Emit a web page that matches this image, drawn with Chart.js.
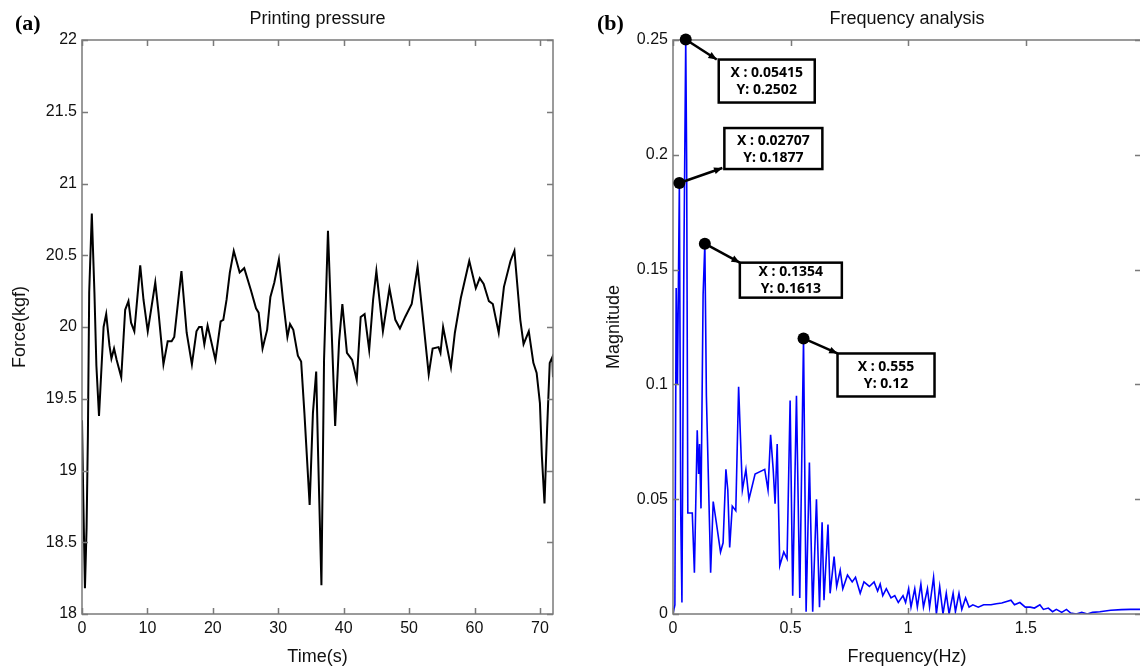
<!DOCTYPE html>
<html>
<head>
<meta charset="utf-8">
<script src="https://cdn.jsdelivr.net/npm/chart.js@4.4.0/dist/chart.umd.min.js"></script>
<style>
  body { margin: 0; background: #fff; }
  #wrap { position: relative; width: 1140px; height: 671px; overflow: hidden; }
  #pressure { position: absolute; left: 0; top: 0; }
  #spectrum { position: absolute; left: 570px; top: 0; }
</style>
</head>
<body>
<div id="wrap">
  <canvas id="pressure" width="570" height="671"></canvas>
  <canvas id="spectrum" width="576" height="671"></canvas>
</div>
<script>
// (a) printing pressure
const timeSec = [0, 0.2, 0.45, 0.7, 0.9, 1.1, 1.5, 1.9, 2.2, 2.6, 3.3, 3.7, 4.2, 4.5, 4.9, 5.3, 6.0, 6.6, 7.1, 7.5,
  8.0, 8.9, 9.4, 10.05, 11.2, 11.7, 12.45, 13.1, 13.7, 14.1, 15.2, 16.0, 16.8, 17.5, 17.9, 18.3, 18.7, 19.2, 20.4, 21.2,
  21.6, 22.1, 22.6, 23.2, 24.1, 24.8, 25.8, 26.6, 27.0, 27.6, 28.3, 28.8, 29.4, 30.1, 30.7, 31.4, 31.8, 32.3, 33.0, 33.5,
  34.0, 34.8, 35.3, 35.8, 36.1, 36.6, 37.0, 37.6, 38.1, 38.7, 39.3, 39.8, 40.5, 41.3, 42.0, 42.6, 43.2, 43.9, 44.5, 45.0,
  46.0, 47.0, 47.9, 48.6, 49.4, 50.4, 51.3, 52.1, 53.0, 53.6, 54.5, 54.8, 55.2, 56.4, 57.0, 57.9, 59.2, 60.2, 60.8, 61.4,
  62.2, 62.8, 63.7, 64.5, 65.5, 66.1, 67.0, 67.5, 68.3, 69.0, 69.5, 70.0, 70.3, 70.7, 71.1, 71.5, 71.9, 72.0];
const forceKgf = [19.35, 18.8, 18.18, 18.6, 19.24, 20.24, 20.79, 20.24, 19.73, 19.38, 20.0, 20.09, 19.87, 19.78, 19.85, 19.77, 19.65, 20.12, 20.18, 20.03,
  19.97, 20.43, 20.19, 19.97, 20.31, 20.1, 19.74, 19.9, 19.9, 19.93, 20.39, 19.96, 19.74, 19.97, 20.0, 20.0, 19.88, 20.01, 19.77, 20.04,
  20.05, 20.19, 20.38, 20.53, 20.38, 20.41, 20.26, 20.13, 20.1, 19.85, 19.98, 20.21, 20.31, 20.47, 20.2, 19.93, 20.02, 19.98, 19.8, 19.76,
  19.4, 18.76, 19.4, 19.69, 19.1, 18.2, 19.77, 20.67, 20.05, 19.31, 19.9, 20.16, 19.82, 19.77, 19.63, 20.07, 20.09, 19.84, 20.19, 20.39,
  19.97, 20.27, 20.05, 19.99, 20.07, 20.16, 20.42, 20.07, 19.67, 19.85, 19.86, 19.82, 20.0, 19.72, 19.96, 20.2, 20.46, 20.27, 20.34, 20.3,
  20.18, 20.16, 19.96, 20.28, 20.46, 20.53, 20.05, 19.88, 19.97, 19.75, 19.68, 19.47, 19.1, 18.77, 19.29, 19.75, 19.79, 19.65];

// (b) frequency analysis, vertices
const freqHz = [0, 0.008, 0.0135, 0.019, 0.02707, 0.033, 0.038, 0.046, 0.05415, 0.058, 0.063, 0.078, 0.082, 0.091, 0.103, 0.109,
  0.113, 0.119, 0.128, 0.1354, 0.142, 0.156, 0.160, 0.171, 0.184, 0.202, 0.213, 0.225, 0.233, 0.241, 0.252, 0.267, 0.279, 0.295,
  0.310, 0.323, 0.349, 0.390, 0.404, 0.415, 0.426, 0.434, 0.443, 0.454, 0.471, 0.485, 0.498, 0.509, 0.525, 0.539, 0.555, 0.566,
  0.580, 0.594, 0.610, 0.623, 0.634, 0.642, 0.659, 0.668, 0.685, 0.696, 0.711, 0.722, 0.742, 0.762, 0.776, 0.796, 0.812, 0.835,
  0.855, 0.870, 0.881, 0.892, 0.907, 0.927, 0.943, 0.958, 0.978, 0.989, 1.002, 1.012, 1.028, 1.039, 1.054, 1.065, 1.082, 1.091,
  1.108, 1.120, 1.134, 1.148, 1.162, 1.174, 1.191, 1.201, 1.216, 1.228, 1.244, 1.259, 1.275, 1.298, 1.321, 1.352, 1.375, 1.398,
  1.437, 1.452, 1.475, 1.498, 1.519, 1.537, 1.560, 1.575, 1.596, 1.614, 1.630, 1.653, 1.673, 1.691, 1.715, 1.738, 1.762, 1.784,
  1.815, 1.861, 1.907, 1.946, 1.99];
const magnitude = [0, 0.004, 0.142, 0.10, 0.1877, 0.043, 0.005, 0.15, 0.2502, 0.198, 0.044, 0.044, 0.044, 0.018, 0.080, 0.061,
  0.074, 0.046, 0.139, 0.1613, 0.095, 0.036, 0.018, 0.049, 0.040, 0.027, 0.031, 0.063, 0.054, 0.029, 0.047, 0.045, 0.099, 0.054,
  0.063, 0.050, 0.061, 0.063, 0.054, 0.078, 0.063, 0.048, 0.074, 0.021, 0.027, 0.024, 0.093, 0.008, 0.095, 0.007, 0.120, 0.001,
  0.066, 0.001, 0.050, 0.003, 0.040, 0.006, 0.039, 0.009, 0.025, 0.012, 0.019, 0.011, 0.017, 0.014, 0.016, 0.009, 0.014, 0.012,
  0.014, 0.010, 0.013, 0.008, 0.011, 0.007, 0.008, 0.005, 0.008, 0.005, 0.011, 0.003, 0.011, 0.003, 0.013, 0.003, 0.011, 0.003,
  0.016, 0.000, 0.012, 0.000, 0.009, 0.000, 0.009, 0.001, 0.009, 0.002, 0.007, 0.003, 0.004, 0.003, 0.004, 0.004, 0.0045, 0.0048,
  0.006, 0.004, 0.005, 0.003, 0.003, 0.0026, 0.004, 0.002, 0.0026, 0.001, 0.002, 0.0007, 0.002, 0.0004, 0, 0.0007, 0, 0.0007,
  0.001, 0.0016, 0.0019, 0.002, 0.002];

// data tips
const tipFreq = [0.05415, 0.02707, 0.1354, 0.555];
const tipMag = [0.2502, 0.1877, 0.1613, 0.12];
// box placement relative to the marker (px)
const tipBoxes = [
  { dx: 33, dy: 20, w: 96, h: 43, ax: -2, ay: 0 },
  { dx: 45, dy: -55, w: 98, h: 41, ax: -2, ay: 40 },
  { dx: 35, dy: 19, w: 102, h: 35, ax: 0, ay: 0 },
  { dx: 34, dy: 15, w: 97, h: 43, ax: 0, ay: 0 }
];

const SANS = '"Liberation Sans", Arial, sans-serif';
const fmt = v => String(+v.toFixed(3));

// MATLAB-like box, inward ticks, title and axis labels
const framePlugin = {
  id: 'frame',
  afterDraw(chart, args, o) {
    const { ctx, chartArea: a } = chart;
    const xs = chart.scales.x, ys = chart.scales.y;
    ctx.save();
    ctx.strokeStyle = '#7a7a7a';
    ctx.lineWidth = 1.5;
    ctx.strokeRect(a.left, a.top, a.right - a.left, a.bottom - a.top);
    ctx.beginPath();
    xs.ticks.forEach(t => {
      const p = Math.round(xs.getPixelForValue(t.value)) + 0.5;
      ctx.moveTo(p, a.bottom); ctx.lineTo(p, a.bottom - 6);
      ctx.moveTo(p, a.top); ctx.lineTo(p, a.top + 6);
    });
    ys.ticks.forEach(t => {
      const p = Math.round(ys.getPixelForValue(t.value)) + 0.5;
      ctx.moveTo(a.left, p); ctx.lineTo(a.left + 6, p);
      ctx.moveTo(a.right, p); ctx.lineTo(a.right - 6, p);
    });
    ctx.stroke();

    const cx = (a.left + a.right) / 2;
    ctx.fillStyle = '#111';
    ctx.textAlign = 'center';
    ctx.textBaseline = 'middle';
    ctx.font = '18px ' + SANS;
    ctx.fillText(o.title, cx, 19);
    ctx.fillText(o.xTitle, cx, 657);
    ctx.save();
    ctx.translate(o.yTitleX, (a.top + a.bottom) / 2);
    ctx.rotate(-Math.PI / 2);
    ctx.fillText(o.yTitle, 0, 0);
    ctx.restore();

    ctx.font = 'bold 22px "Liberation Serif", "Times New Roman", serif';
    ctx.textAlign = 'left';
    ctx.fillStyle = '#000';
    ctx.fillText(o.panel, o.panelX, 24);
    ctx.restore();
  }
};

// black markers, arrows and text boxes of the data tips
const tipsPlugin = {
  id: 'tips',
  afterDraw(chart) {
    const { ctx } = chart;
    const xs = chart.scales.x, ys = chart.scales.y;
    ctx.save();
    tipFreq.forEach((f, i) => {
      const px = xs.getPixelForValue(f), py = ys.getPixelForValue(tipMag[i]);
      const b = tipBoxes[i];
      const bx = px + b.dx, by = py + b.dy;
      const ex = bx + b.ax, ey = by + b.ay;
      // arrow
      ctx.strokeStyle = '#000';
      ctx.fillStyle = '#000';
      ctx.lineWidth = 2.5;
      ctx.beginPath();
      ctx.moveTo(px, py);
      ctx.lineTo(ex, ey);
      ctx.stroke();
      const ang = Math.atan2(ey - py, ex - px);
      ctx.beginPath();
      ctx.moveTo(ex, ey);
      ctx.lineTo(ex - 9 * Math.cos(ang - 0.4), ey - 9 * Math.sin(ang - 0.4));
      ctx.lineTo(ex - 9 * Math.cos(ang + 0.4), ey - 9 * Math.sin(ang + 0.4));
      ctx.closePath();
      ctx.fill();
      // marker
      ctx.beginPath();
      ctx.arc(px, py, 6, 0, Math.PI * 2);
      ctx.fill();
      // box
      ctx.fillStyle = '#fff';
      ctx.fillRect(bx, by, b.w, b.h);
      ctx.lineWidth = 2.5;
      ctx.strokeRect(bx, by, b.w, b.h);
      ctx.fillStyle = '#000';
      ctx.font = 'bold 14px "Noto Sans", "DejaVu Sans", sans-serif';
      ctx.textAlign = 'center';
      ctx.textBaseline = 'middle';
      ctx.fillText('X : ' + f, bx + b.w / 2, by + b.h / 2 - 8);
      ctx.fillText('Y: ' + tipMag[i], bx + b.w / 2, by + b.h / 2 + 9);
    });
    ctx.restore();
  }
};

function axisOpts(min, max, step, size) {
  return {
    type: 'linear',
    min: min,
    max: max,
    grid: { display: false, drawTicks: false },
    border: { display: false },
    ticks: {
      stepSize: step,
      includeBounds: false,
      padding: 5,
      color: '#111',
      font: { family: SANS, size: 16 },
      maxRotation: 0,
      autoSkip: false,
      callback: v => fmt(v)
    },
    afterFit: size
  };
}

function initializeCharts() {
  const c1 = document.getElementById('pressure').getContext('2d');
  new Chart(c1, {
    type: 'line',
    data: {
      datasets: [{
        data: timeSec.map((t, i) => ({ x: t, y: forceKgf[i] })),
        borderColor: '#000',
        borderWidth: 2,
        pointRadius: 0,
        tension: 0
      }]
    },
    options: {
      responsive: false,
      animation: false,
      layout: { padding: { top: 40, right: 17, left: 0, bottom: 0 } },
      plugins: {
        legend: { display: false },
        tooltip: { enabled: false },
        frame: { title: 'Printing pressure', xTitle: 'Time(s)', yTitle: 'Force(kgf)', yTitleX: 20, panel: '(a)', panelX: 15 }
      },
      scales: {
        x: axisOpts(0, 72, 10, s => { s.height = 57; }),
        y: axisOpts(18, 22, 0.5, s => { s.width = 82; })
      }
    },
    plugins: [framePlugin]
  });

  const c2 = document.getElementById('spectrum').getContext('2d');
  new Chart(c2, {
    type: 'line',
    data: {
      datasets: [{
        data: freqHz.map((f, i) => ({ x: f, y: magnitude[i] })),
        borderColor: '#0000ff',
        borderWidth: 1.6,
        pointRadius: 0,
        tension: 0
      }]
    },
    options: {
      responsive: false,
      animation: false,
      layout: { padding: { top: 40, right: 5, left: 0, bottom: 0 } },
      plugins: {
        legend: { display: false },
        tooltip: { enabled: false },
        frame: { title: 'Frequency analysis', xTitle: 'Frequency(Hz)', yTitle: 'Magnitude', yTitleX: 44, panel: '(b)', panelX: 27 }
      },
      scales: {
        x: axisOpts(0, 1.99, 0.5, s => { s.height = 57; }),
        y: axisOpts(0, 0.25, 0.05, s => { s.width = 103; })
      }
    },
    plugins: [framePlugin, tipsPlugin]
  });
}

if (typeof window !== "undefined") {
  if (document.readyState === "loading") {
    document.addEventListener("DOMContentLoaded", initializeCharts);
  } else {
    initializeCharts();
  }
}
</script>
</body>
</html>
